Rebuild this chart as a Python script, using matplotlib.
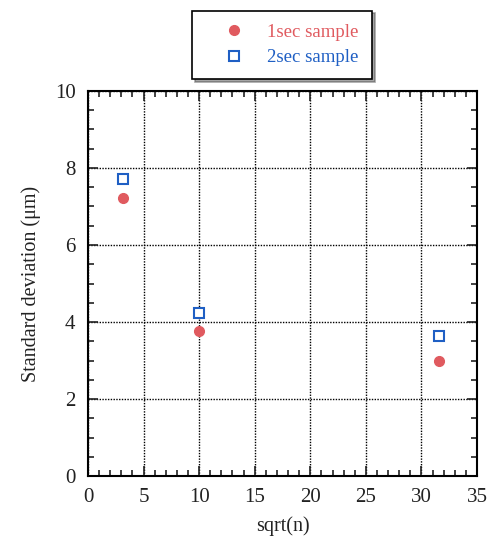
import numpy as np
import matplotlib.pyplot as plt
from matplotlib.ticker import MultipleLocator
from matplotlib.lines import Line2D

# data
sqrt_n = [3.16, 10.0, 31.6]
sd_1sec = [7.22, 3.76, 2.99]
sd_2sec = [7.71, 4.23, 3.64]
labels = ['1sec sample', '2sec sample']

red = '#e05a5f'
blue = '#1f5fc4'

plt.rcParams['font.family'] = ['Liberation Serif', 'DejaVu Serif']

fig = plt.figure(figsize=(4.88, 5.42), dpi=100)
ax = fig.add_axes([88 / 488, 1 - 476 / 542, 389 / 488, 385 / 542])

ax.plot(sqrt_n, sd_1sec, 'o', color=red, markersize=7, linestyle='none')
ax.plot(sqrt_n, sd_2sec, 's', markerfacecolor='white', markeredgecolor=blue,
        markeredgewidth=1.5, markersize=7, linestyle='none')

ax.set_xlim(0, 35)
ax.set_ylim(0, 10)
ax.xaxis.set_major_locator(MultipleLocator(5))
ax.xaxis.set_minor_locator(MultipleLocator(1))
ax.yaxis.set_major_locator(MultipleLocator(2))
ax.yaxis.set_minor_locator(MultipleLocator(0.5))
ax.tick_params(which='both', direction='in', top=True, right=True,
               labelsize=15, colors='#222222')
ax.tick_params(which='major', length=7, width=1.2, pad=9)
ax.tick_params(which='minor', length=4, width=1.2)
for s in ax.spines.values():
    s.set_linewidth(1.5)
ax.grid(True, which='major', linestyle=(0, (1, 1)), color='black', linewidth=1)

ax.set_xlabel('sqrt(n)', fontsize=14.5, labelpad=6, color='#222222')
ax.set_ylabel('Standard deviation (\u03bcm)', fontsize=14.5, labelpad=10, color='#222222')

handles = [
    Line2D([], [], marker='o', color=red, linestyle='none', markersize=7),
    Line2D([], [], marker='s', markerfacecolor='white', markeredgecolor=blue,
           markeredgewidth=1.5, linestyle='none', markersize=7),
]
leg = fig.legend(handles, labels, loc='center', bbox_to_anchor=(282 / 488, 1 - 45 / 542),
                 fontsize=13.5, frameon=True, fancybox=False, shadow=True,
                 edgecolor='black', borderpad=0.7, handlelength=3.0,
                 handletextpad=0.3, labelspacing=0.45)
leg.get_frame().set_linewidth(1.2)
for t, c in zip(leg.get_texts(), [red, blue]):
    t.set_color(c)

fig.savefig('out.png', dpi=100)
